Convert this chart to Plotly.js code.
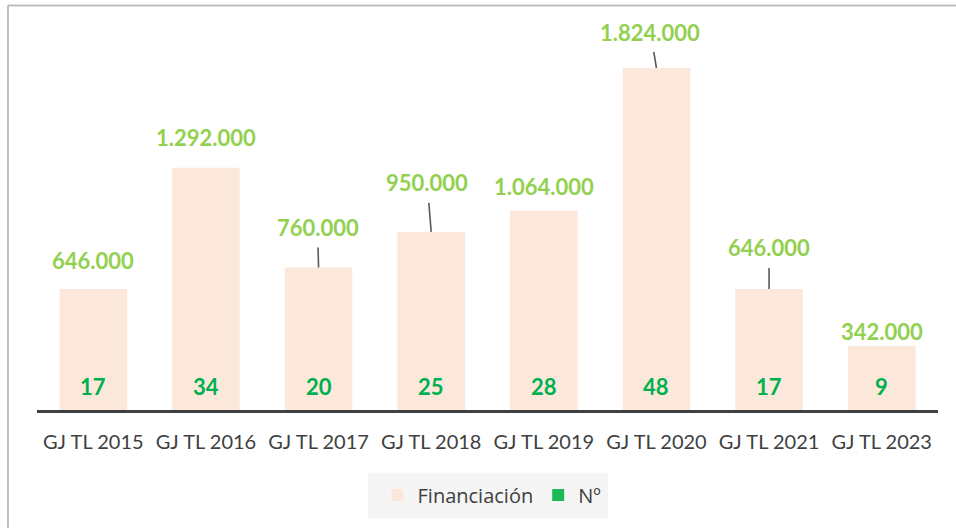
<!DOCTYPE html>
<html>
<head>
<meta charset="utf-8">
<script src="https://cdn.plot.ly/plotly-3.0.1.min.js"></script>
<style>
  html, body { margin: 0; padding: 0; background: #ffffff; }
  #chart { width: 956px; height: 528px; }
</style>
</head>
<body>
<div id="chart"></div>
<script>
// ---- data ----
const categories = ['GJ TL 2015', 'GJ TL 2016', 'GJ TL 2017', 'GJ TL 2018', 'GJ TL 2019', 'GJ TL 2020', 'GJ TL 2021', 'GJ TL 2023'];
const financiacion = [646000, 1292000, 760000, 950000, 1064000, 1824000, 646000, 342000];
const numeros = [17, 34, 20, 25, 28, 48, 17, 9];
const seriesNames = ['Financiación', 'Nº'];

// ---- label placement (style, not data) ----
const labelPlacement = [
  { arrow: false, shift: 28 },
  { arrow: false, shift: 30 },
  { arrow: true, ax: -1, ay: -40 },
  { arrow: true, ax: -4, ay: -49 },
  { arrow: false, shift: 24 },
  { arrow: true, ax: -6, ay: -36 },
  { arrow: true, ax: 0, ay: -41 },
  { arrow: false, shift: 14 }
];

const FONT = 'Lato, "Open Sans", sans-serif';
const fmt = v => String(v).replace(/\B(?=(\d{3})+(?!\d))/g, '.');

const traces = [
  {
    type: 'bar', name: seriesNames[0], x: categories, y: financiacion,
    marker: { color: '#FCE8DA' }, hoverinfo: 'skip'
  },
  {
    type: 'bar', name: seriesNames[1], x: categories, y: numeros, yaxis: 'y2',
    marker: { color: '#1DB954' }, hoverinfo: 'skip'
  }
];

const annotations = [];
categories.forEach((c, i) => {
  const p = labelPlacement[i];
  const base = {
    x: c, y: financiacion[i], xref: 'x', yref: 'y',
    text: '<b>' + fmt(financiacion[i]) + '</b>',
    font: { family: FONT, size: 22, color: '#92D050' }
  };
  if (p.arrow) {
    Object.assign(base, {
      showarrow: true, ax: p.ax, ay: p.ay, arrowhead: 0,
      arrowwidth: 1.6, arrowcolor: '#595959', startstandoff: 5, standoff: 0
    });
  } else {
    Object.assign(base, { showarrow: false, yanchor: 'middle', yshift: p.shift });
  }
  annotations.push(base);
  annotations.push({
    x: c, y: 0, xref: 'x', yref: 'y', showarrow: false,
    yanchor: 'middle', yshift: 24,
    text: '<b>' + numeros[i] + '</b>',
    font: { family: FONT, size: 22, color: '#00B050' }
  });
});

const layout = {
  width: 956, height: 528,
  margin: { l: 37, r: 18, t: 20, b: 118 },
  paper_bgcolor: '#ffffff', plot_bgcolor: '#ffffff',
  barmode: 'overlay', bargap: 0.4,
  font: { family: FONT, color: '#404040' },
  xaxis: {
    type: 'category', showgrid: false, zeroline: false,
    showline: true, linecolor: '#404040', linewidth: 3,
    ticks: '', tickangle: 0, ticklabelstandoff: 12,
    tickfont: { family: FONT, size: 20, color: '#404040' }
  },
  yaxis: { visible: false, range: [0, 2080000], showgrid: false, zeroline: false },
  yaxis2: { visible: false, overlaying: 'y', range: [0, 1e12], showgrid: false, zeroline: false },
  showlegend: true,
  legend: {
    orientation: 'h', x: 0.505, xanchor: 'center', y: -0.218, yanchor: 'middle',
    bgcolor: 'rgba(0,0,0,0)', font: { family: '"Open Sans", sans-serif', size: 20, color: '#404040' },
    itemclick: false, itemdoubleclick: false
  },
  shapes: [
    { type: 'rect', xref: 'paper', yref: 'paper', x0: 0.367, x1: 0.634, y0: -0.162, y1: -0.278,
      fillcolor: '#F5F5F5', line: { width: 0 }, layer: 'below' },
    { type: 'line', xref: 'paper', yref: 'paper', x0: -0.0322, x1: 1.1, y0: 1.0372, y1: 1.0372,
      line: { color: '#BFBFBF', width: 2 } },
    { type: 'line', xref: 'paper', yref: 'paper', x0: -0.0322, x1: -0.0322, y0: 1.0372, y1: -0.4,
      line: { color: '#BFBFBF', width: 2 } }
  ],
  annotations: annotations
};

Plotly.newPlot('chart', traces, layout, { displayModeBar: false, staticPlot: true });
</script>
</body>
</html>
